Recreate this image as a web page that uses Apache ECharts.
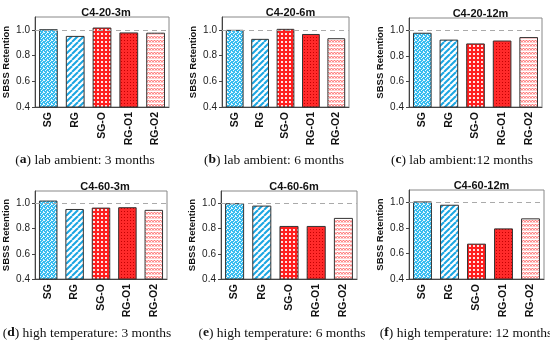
<!DOCTYPE html>
<html><head><meta charset="utf-8">
<script src="https://cdn.jsdelivr.net/npm/echarts@6/dist/echarts.min.js"></script>
<style>html,body{margin:0;padding:0;background:#fff}#c{width:550px;height:342px}</style>
</head><body><div id="c"></div>
<script>
const categories = ['SG', 'RG', 'SG-O', 'RG-O1', 'RG-O2'];
const panelTitles = ['C4-20-3m', 'C4-20-6m', 'C4-20-12m', 'C4-60-3m', 'C4-60-6m', 'C4-60-12m'];
const captionLetters = ['a', 'b', 'c', 'd', 'e', 'f'];
const captionTexts = ['lab ambient: 3 months', 'lab ambient: 6 months', 'lab ambient:12 months',
  'high temperature: 3 months', 'high temperature: 6 months', 'high temperature: 12 months'];
const valuesA = [1.005, 0.953, 1.018, 0.980, 0.978];
const valuesB = [1.000, 0.930, 1.008, 0.968, 0.935];
const valuesC = [0.984, 0.930, 0.900, 0.923, 0.950];
const valuesD = [1.024, 0.957, 0.968, 0.971, 0.950];
const valuesE = [1.003, 0.984, 0.822, 0.822, 0.886];
const valuesF = [1.010, 0.984, 0.678, 0.798, 0.877];
const yTicks = [0.4, 0.6, 0.8, 1.0];
const referenceLine = 1.0;

const panelValues = [valuesA, valuesB, valuesC, valuesD, valuesE, valuesF];

// layout (pixels)
const grids = [
  {left: 33, top: 17, width: 136, height: 90},
  {left: 222, top: 17, width: 127, height: 90},
  {left: 409, top: 18, width: 133, height: 89},
  {left: 33, top: 191, width: 134, height: 88},
  {left: 221, top: 191, width: 136, height: 88},
  {left: 409, top: 190, width: 135, height: 89}
];
const captionCenters = [[85, 160], [274, 160], [462, 160], [87, 333], [282, 333], [466, 333]];

function mk(w, h, draw) {
  const c = document.createElement('canvas'); c.width = w; c.height = h;
  const g = c.getContext('2d'); draw(g); return c;
}
const patSG = mk(4, 4, g => {
  g.fillStyle = '#38BDF0'; g.fillRect(0, 0, 4, 4);
  g.fillStyle = '#E8F8FF';
  [[0,0],[2,1],[1,2],[3,3],[3,0]].forEach(p => g.fillRect(p[0], p[1], 1, 1));
});
const patRG = mk(6, 6, g => {
  g.fillStyle = '#ffffff'; g.fillRect(0, 0, 6, 6);
  g.strokeStyle = '#1BA6E2'; g.lineWidth = 2;
  for (let o = -12; o <= 12; o += 6) { g.beginPath(); g.moveTo(o, 6); g.lineTo(o + 6, 0); g.stroke(); }
});
const patSGO = mk(4, 4, g => {
  g.fillStyle = '#FF1E1E'; g.fillRect(0, 0, 4, 4);
  g.fillStyle = '#FFE0E0';
  g.fillRect(1, 1, 2, 2);
});
const patRGO1 = mk(3, 3, g => {
  g.fillStyle = '#FF2A2A'; g.fillRect(0, 0, 3, 3);
  g.fillStyle = '#C40000'; g.fillRect(1, 1, 1, 1);
});
const patRGO2 = mk(6, 4, g => {
  g.fillStyle = '#ffffff'; g.fillRect(0, 0, 6, 4);
  g.strokeStyle = '#FF5050'; g.lineWidth = 1;
  g.beginPath(); g.moveTo(0, 1.5); g.lineTo(1.5, 0.5); g.lineTo(3, 1.5); g.lineTo(4.5, 0.5); g.lineTo(6, 1.5); g.stroke();
  g.fillStyle = '#FFD0D0'; g.fillRect(0, 2, 6, 1);
});
const patterns = [patSG, patRG, patSGO, patRGO1, patRGO2];

const chart = echarts.init(document.getElementById('c'), null, {renderer: 'canvas'});
const option = {
  animation: false,
  backgroundColor: '#fff',
  title: [], grid: [], xAxis: [], yAxis: [], series: [],
  graphic: []
};
panelValues.forEach((vals, i) => {
  const gr = grids[i];
  option.grid.push(Object.assign({show: true, borderColor: '#888', borderWidth: 1, backgroundColor: 'transparent'}, gr));
  option.title.push({
    text: panelTitles[i], left: gr.left + gr.width / 2, top: gr.top - 15, textAlign: 'center',
    textStyle: {fontFamily: 'Liberation Sans', fontWeight: 'bold', fontSize: 11, color: '#111'}
  });
  option.xAxis.push({
    type: 'category', gridIndex: i, data: categories,
    axisLine: {lineStyle: {color: '#444', width: 1}},
    axisTick: {show: false},
    axisLabel: {rotate: 90, fontFamily: 'Liberation Sans', fontWeight: 'bold', fontSize: 10.5, color: '#111', margin: 5, interval: 0}
  });
  option.yAxis.push({
    type: 'value', gridIndex: i, min: 0.4, max: 1.1, interval: 0.2,
    name: 'SBSS Retention', nameLocation: 'middle', nameGap: 24, nameRotate: 90,
    nameTextStyle: {fontFamily: 'Liberation Sans', fontWeight: 'bold', fontSize: 9.5, color: '#111'},
    axisLine: {show: true, lineStyle: {color: '#444'}},
    axisTick: {show: true, length: 3, inside: false, lineStyle: {color: '#444'}},
    splitLine: {show: false},
    axisLabel: {showMaxLabel: false, fontFamily: 'Liberation Sans', fontSize: 10, color: '#222', margin: 5,
      formatter: v => yTicks.some(t => Math.abs(t - v) < 1e-6) ? v.toFixed(1) : ''}
  });
  option.series.push({
    type: 'bar', xAxisIndex: i, yAxisIndex: i, barCategoryGap: '30%',
    data: vals.map((v, k) => ({value: v, itemStyle: {color: {image: patterns[k], repeat: 'repeat'}}})),
    itemStyle: {borderColor: '#333', borderWidth: 1},
    markLine: {
      silent: true, symbol: 'none', label: {show: false},
      lineStyle: {color: '#AAAAAA', type: [5, 4], width: 1},
      data: [{yAxis: referenceLine}]
    }
  });
  const cc = captionCenters[i];
  option.graphic.push({
    type: 'text', x: cc[0], y: cc[1],
    style: {
      text: '({b|' + captionLetters[i] + '}) ' + captionTexts[i],
      font: '13.5px "Liberation Serif"', fill: '#111', align: 'center', verticalAlign: 'middle',
      textAlign: 'center', textVerticalAlign: 'middle',
      rich: {b: {fontWeight: 'bold', fontFamily: 'Liberation Serif', fontSize: 13.5, fill: '#111'}}
    }
  });
});
chart.setOption(option);
</script></body></html>
